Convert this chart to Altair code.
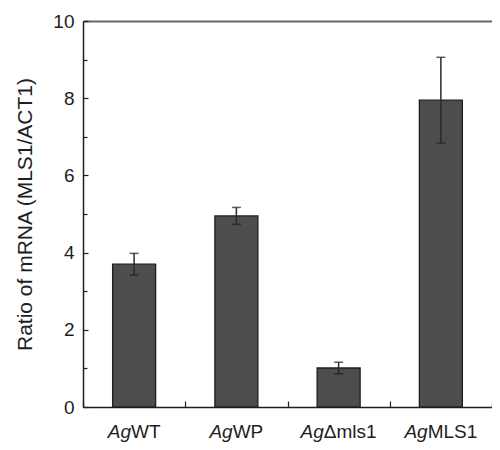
import altair as alt
import pandas as pd

categories = ["AgWT", "AgWP", "AgΔmls1", "AgMLS1"]
prefixes = ["Ag", "Ag", "Ag", "Ag"]
suffixes = ["WT", "WP", "Δmls1", "MLS1"]
values = [3.70, 4.95, 1.01, 7.95]
errors = [0.28, 0.22, 0.15, 1.11]
y_major = [0, 2, 4, 6, 8, 10]
y_minor = [1, 3, 5, 7, 9]

df = pd.DataFrame({"cat": categories, "value": values, "err": errors,
                   "pre": prefixes, "suf": suffixes})
df["lo"] = df["value"] - df["err"]
df["hi"] = df["value"] + df["err"]

FONT = "Liberation Sans"
W, H = 409, 386
xscale = alt.Scale(domain=categories, paddingInner=0, paddingOuter=0)
yscale = alt.Scale(domain=[0, 10], nice=False)

base = alt.Chart(df)

bars = base.mark_bar(size=43, color="#4d4d4d", stroke="#1e1e1e", strokeWidth=1.3).encode(
    x=alt.X("cat:N", scale=xscale, sort=categories,
            axis=alt.Axis(orient="bottom", labels=False, ticks=False, title=None,
                          domainColor="#1e1e1e", domainWidth=1.5, grid=False)),
    y=alt.Y("value:Q", scale=yscale,
            axis=alt.Axis(orient="left", values=y_major, ticks=False, tickSize=0,
                          labelPadding=9, labelFontSize=19, labelFont=FONT,
                          labelColor="#1e1e1e", domainColor="#1e1e1e", domainWidth=1.5,
                          grid=False, title="Ratio of mRNA (MLS1/ACT1)",
                          titleFont=FONT, titleFontSize=21, titleFontWeight="normal",
                          titleColor="#1e1e1e", titlePadding=17)),
)

rules = base.mark_rule(color="#2a2a2a", strokeWidth=1.5).encode(
    x=alt.X("cat:N", scale=xscale, sort=categories,
            axis=alt.Axis(orient="bottom", offset=-6, tickSize=6, tickBand="extent",
                          tickColor="#1e1e1e", tickWidth=1.2, labels=False,
                          domain=False, title=None, grid=False)),
    y=alt.Y("lo:Q", scale=yscale,
            axis=alt.Axis(orient="left", offset=-5, tickSize=5, values=y_major,
                          tickColor="#1e1e1e", tickWidth=1.2, labels=False,
                          domain=False, title=None, grid=False)),
    y2="hi:Q",
)

caps_hi = base.mark_tick(orient="horizontal", size=9, thickness=1.5, color="#1e1e1e").encode(
    x=alt.X("cat:N", scale=xscale, sort=categories,
            axis=alt.Axis(orient="top", ticks=False, labels=False, title=None,
                          domainColor="#666666", domainWidth=2, grid=False)),
    y=alt.Y("hi:Q", scale=yscale,
            axis=alt.Axis(orient="left", offset=-4, tickSize=4, values=y_minor,
                          tickColor="#1e1e1e", tickWidth=1.2, labels=False,
                          domain=False, title=None, grid=False)),
)
caps_lo = base.mark_tick(orient="horizontal", size=9, thickness=1.5, color="#1e1e1e").encode(
    x=alt.X("cat:N", scale=xscale, sort=categories, axis=None),
    y=alt.Y("lo:Q", scale=yscale, axis=None),
)

# approximate em widths (Arial metrics) used to centre the mixed-style labels
EM = {"A": .667, "g": .556, "W": .944, "T": .611, "P": .667, "Δ": .668, "m": .833,
      "l": .222, "s": .5, "1": .556, "M": .833, "L": .556, "S": .667}
FS = 19


def wid(t):
    return sum(EM.get(c, .6) for c in t) * FS


label_layers = []
for i, cat in enumerate(categories):
    dx = (wid(prefixes[i]) - wid(suffixes[i])) / 2
    sub = base.transform_filter(alt.datum.cat == cat)
    label_layers.append(sub.mark_text(font=FONT, fontSize=FS, fontStyle="italic", align="right",
                                      baseline="alphabetic", dx=dx, color="#1e1e1e").encode(
        x=alt.X("cat:N", scale=xscale, sort=categories, axis=None),
        y=alt.value(H + 31), text="pre:N"))
    label_layers.append(sub.mark_text(font=FONT, fontSize=FS, align="left",
                                      baseline="alphabetic", dx=dx, color="#1e1e1e").encode(
        x=alt.X("cat:N", scale=xscale, sort=categories, axis=None),
        y=alt.value(H + 31), text="suf:N"))

chart = alt.layer(bars, rules, caps_hi, caps_lo, *label_layers).resolve_axis(
    x="independent", y="independent"
).properties(
    width=W, height=H, autosize=alt.AutoSizeParams(type="none"),
    padding={"left": 75, "top": 13, "right": 0, "bottom": 35},
).configure_view(strokeWidth=0)

chart.save("out.html", embed_options={"renderer": "svg", "actions": False})
